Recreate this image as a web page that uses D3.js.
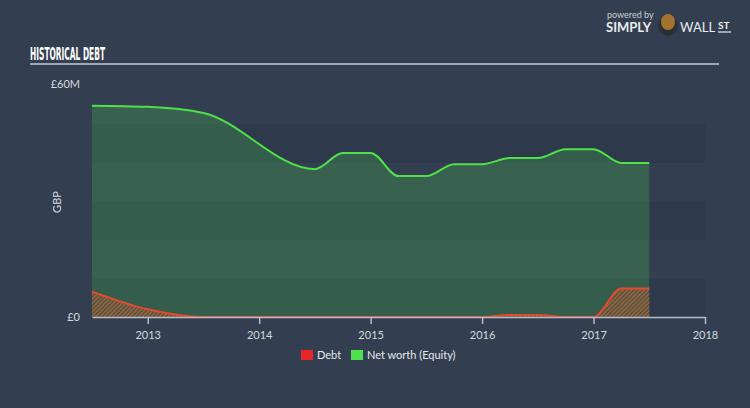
<!DOCTYPE html>
<html><head><meta charset="utf-8">
<script src="https://cdn.jsdelivr.net/npm/d3@7"></script>
<style>
html,body{margin:0;padding:0;background:#333f50;}
svg{display:block;}
</style></head><body>
<svg id="chart" width="750" height="408"></svg>
<script>
// ---- data ----
const years = [2012.5, 2013.0, 2013.5, 2014.5, 2014.75, 2015.0, 2015.25, 2015.5, 2015.75, 2016.0, 2016.25, 2016.5, 2016.75, 2017.0, 2017.25, 2017.5];
const netWorth = [54.9, 54.6, 53.0, 38.4, 42.6, 42.6, 36.6, 36.6, 39.7, 39.7, 41.3, 41.3, 43.6, 43.6, 40.0, 40.0];
const debt =     [6.6, 2.0, 0, 0, 0, 0, 0, 0, 0, 0, 0.5, 0.5, 0, 0, 7.4, 7.4];
const xTicks = [2013, 2014, 2015, 2016, 2017, 2018];
const yTickLabels = ["£0", "£60M"];
const yTickValues = [0, 60];
const legendItems = ["Debt", "Net worth (Equity)"];

const svg = d3.select("#chart");
const W = 750, H = 408;
const m = {left: 92, right: 705, top: 86, bottom: 317};

const x = d3.scaleLinear().domain([2012.5, 2018]).range([m.left, m.right]);
const y = d3.scaleLinear().domain([0, 60]).range([m.bottom, m.top]);

svg.append("rect").attr("width", W).attr("height", H).attr("fill", "#333f50");

const defs = svg.append("defs");
const pat = defs.append("pattern").attr("id", "hatch").attr("patternUnits", "userSpaceOnUse")
  .attr("width", 3).attr("height", 3).attr("patternTransform", "rotate(45)");
pat.append("rect").attr("width", 1.4).attr("height", 3).attr("fill", "#d9582f").attr("opacity", 0.85);

// bands
const bandEdges = d3.range(0, 7).map(i => i * 10);
for (let i = 0; i < 6; i++) {
  if (i % 2 === 0) {
    svg.append("rect").attr("x", m.left).attr("width", m.right - m.left)
      .attr("y", y(bandEdges[i + 1])).attr("height", y(bandEdges[i]) - y(bandEdges[i + 1]))
      .attr("fill", "#2d3a4a").attr("opacity", 0.8);
  }
}

const data = years.map((t, i) => ({t, nw: netWorth[i], d: debt[i]}));
const curve = d3.curveMonotoneX;

svg.append("path").datum(data)
  .attr("d", d3.area().x(d => x(d.t)).y0(y(0)).y1(d => y(d.nw)).curve(curve))
  .attr("fill", "#4ee04e").attr("opacity", 0.22);
svg.append("path").datum(data)
  .attr("d", d3.line().x(d => x(d.t)).y(d => y(d.nw)).curve(curve))
  .attr("fill", "none").attr("stroke", "#4fe04a").attr("stroke-width", 2);

svg.append("path").datum(data)
  .attr("d", d3.area().x(d => x(d.t)).y0(y(0)).y1(d => y(d.d)).curve(curve))
  .attr("fill", "url(#hatch)");
svg.append("path").datum(data)
  .attr("d", d3.line().x(d => x(d.t)).y(d => y(d.d)).curve(curve))
  .attr("fill", "none").attr("stroke", "#e8482c").attr("stroke-width", 2);

// x axis
const xAxis = svg.append("g").attr("transform", `translate(0,${m.bottom})`)
  .call(d3.axisBottom(x).tickValues(xTicks).tickFormat(d3.format("d")).tickSize(7).tickSizeOuter(0));
xAxis.select(".domain").attr("stroke", "#b4bcc6").attr("stroke-width", 1.5);
xAxis.selectAll(".tick line").attr("stroke", "#b4bcc6").attr("stroke-width", 1.5);
xAxis.selectAll("text").attr("fill", "#d4d9df").attr("font-family", "Lato, 'Open Sans', sans-serif")
  .attr("font-size", 11).attr("dy", "1.05em");

// y labels
svg.selectAll(".ylab").data(yTickValues).enter().append("text")
  .attr("x", 80).attr("y", d => y(d) + 4).attr("text-anchor", "end")
  .attr("fill", "#d4d9df").attr("font-family", "Lato, 'Open Sans', sans-serif").attr("font-size", 11)
  .attr("dy", (d) => d === 60 ? -2 : 0)
  .text((d, i) => yTickLabels[i]);
svg.append("text").attr("transform", "translate(61,202) rotate(-90)").attr("text-anchor", "middle")
  .attr("fill", "#d4d9df").attr("font-family", "Lato, 'Open Sans', sans-serif").attr("font-size", 11).text("GBP");

// title
svg.append("text").attr("x", 30).attr("y", 59.5).attr("fill", "#ffffff")
  .attr("font-family", "'DejaVu Sans Condensed', 'Liberation Sans Narrow', sans-serif")
  .attr("font-weight", "bold").attr("font-size", 17.5)
  .attr("textLength", 75).attr("lengthAdjust", "spacingAndGlyphs")
  .text("HISTORICAL DEBT");
svg.append("line").attr("x1", 30).attr("x2", 719).attr("y1", 64).attr("y2", 64)
  .attr("stroke", "#c3cbd4").attr("stroke-width", 1.5);

// legend
const legColors = ["#e8262a", "#4ee04e"];
const legX = [301, 351];
legendItems.forEach((name, i) => {
  svg.append("rect").attr("x", legX[i]).attr("y", 350).attr("width", 12).attr("height", 10).attr("fill", legColors[i]);
  svg.append("text").attr("x", legX[i] + 16).attr("y", 359).attr("fill", "#e6e9ed")
    .attr("font-family", "Lato, 'Open Sans', sans-serif").attr("font-size", 11).text(name);
});

// logo
const logo = svg.append("g");
logo.append("text").attr("x", 607).attr("y", 18).attr("fill", "#c9ced4")
  .attr("font-family", "Lato, sans-serif").attr("font-size", 9).text("powered by");
logo.append("text").attr("x", 606).attr("y", 32).attr("fill", "#e8ebee")
  .attr("font-family", "Lato, sans-serif").attr("font-weight", "bold").attr("font-size", 13).text("SIMPLY");
logo.append("circle").attr("cx", 668).attr("cy", 26).attr("r", 10).attr("fill", "#2a2f36");
logo.append("ellipse").attr("cx", 668).attr("cy", 22).attr("rx", 7).attr("ry", 8).attr("fill", "#a4712f");
logo.append("text").attr("x", 680).attr("y", 32).attr("fill", "#e8ebee")
  .attr("font-family", "Lato, sans-serif").attr("font-size", 13).text("WALL");
logo.append("text").attr("x", 718).attr("y", 29).attr("fill", "#e8ebee")
  .attr("font-family", "Lato, sans-serif").attr("font-weight", "bold").attr("font-size", 10).text("ST");
logo.append("line").attr("x1", 718).attr("x2", 731).attr("y1", 32).attr("y2", 32).attr("stroke", "#e8ebee").attr("stroke-width", 1.2);
</script>
</body></html>
